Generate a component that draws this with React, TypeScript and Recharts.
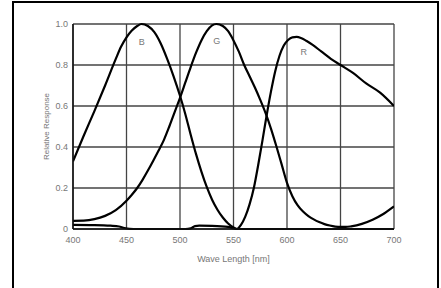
import React from 'react';
import { LineChart, Line, XAxis, YAxis, CartesianGrid, ReferenceDot, Label } from 'recharts';

const xTicks = [400, 450, 500, 550, 600, 650, 700];
const yTicks = [0, 0.2, 0.4, 0.6, 0.8, 1.0];

const bWave = [400, 410, 420, 430, 440, 445, 450, 455, 460, 464, 470, 476, 482, 488, 494, 500, 505, 510, 515, 520, 525, 530, 535, 540, 545, 550, 554, 560, 700];
const bValue = [0.33, 0.455, 0.575, 0.7, 0.83, 0.89, 0.935, 0.968, 0.99, 1.0, 0.99, 0.96, 0.905, 0.83, 0.745, 0.65, 0.56, 0.46, 0.365, 0.28, 0.205, 0.143, 0.094, 0.056, 0.027, 0.008, 0, 0, 0];

const gWave = [400, 410, 420, 430, 440, 450, 455, 460, 465, 470, 475, 480, 485, 490, 495, 500, 505, 510, 515, 520, 525, 530, 534, 540, 545, 550, 555, 560, 565, 570, 575, 580, 585, 590, 595, 600, 605, 610, 615, 620, 625, 630, 635, 640, 645, 650, 655, 660, 670, 680, 690, 700];
const gValue = [0.04, 0.041, 0.048, 0.064, 0.092, 0.138, 0.167, 0.2, 0.24, 0.285, 0.333, 0.383, 0.435, 0.5, 0.57, 0.64, 0.715, 0.79, 0.86, 0.92, 0.965, 0.993, 1.0, 0.99, 0.965, 0.92, 0.865, 0.8, 0.745, 0.69, 0.63, 0.565, 0.49, 0.405, 0.315, 0.225, 0.16, 0.115, 0.085, 0.063, 0.047, 0.034, 0.024, 0.017, 0.012, 0.01, 0.01, 0.013, 0.025, 0.045, 0.073, 0.11];

const rWave = [400, 420, 435, 443, 448, 453, 460, 505, 510, 514, 518, 530, 545, 553, 557, 561, 565, 569, 573, 577, 581, 585, 589, 593, 597, 601, 605, 609, 613, 618, 624, 632, 641, 650, 662, 674, 687, 700];
const rValue = [0.02, 0.019, 0.016, 0.012, 0.005, 0.001, 0, 0, 0.003, 0.014, 0.016, 0.015, 0.01, 0, 0.02, 0.06, 0.12, 0.2, 0.31, 0.43, 0.555, 0.67, 0.77, 0.845, 0.895, 0.922, 0.935, 0.937, 0.932, 0.918, 0.898, 0.866, 0.83, 0.8, 0.76, 0.71, 0.665, 0.6];

const curveNames = ['B', 'G', 'R'];
const labelWave = [464.2, 534.3, 615.6];
const labelValue = [0.914, 0.918, 0.865];

const zip = (w: number[], v: number[]) => w.map((nm, i) => ({ nm, v: v[i] }));
const series = [zip(bWave, bValue), zip(gWave, gValue), zip(rWave, rValue)];

const FONT = '"Liberation Sans", Arial, sans-serif';

export default function App() {
  return (
    <div style={{ position: 'fixed', left: 0, top: 0, width: 441, height: 288, overflow: 'hidden', background: '#fff' }}>
      <div style={{ position: 'absolute', left: 12, top: 1, width: 423, height: 320, borderTop: '2px solid #000', borderLeft: '2px solid #000', borderRight: '2px solid #000' }} />
      <div style={{ position: 'absolute', left: 0, top: 0 }}>
        <LineChart width={441} height={288} margin={{ top: 24, right: 47, bottom: 19, left: 20 }}>
          <CartesianGrid stroke="#444" strokeWidth={1.3} />
          <XAxis
            type="number"
            dataKey="nm"
            domain={[400, 700]}
            ticks={xTicks}
            allowDataOverflow
            height={40}
            tickLine={false}
            tickSize={0}
            tickMargin={8}
            axisLine={{ stroke: '#111', strokeWidth: 1.5 }}
            tick={{ fill: '#777', fontSize: 9, fontFamily: FONT }}
          >
            <Label value="Wave Length [nm]" position="insideBottom" offset={7} fill="#777" fontSize={9} fontFamily={FONT} />
          </XAxis>
          <YAxis
            type="number"
            dataKey="v"
            domain={[0, 1]}
            ticks={yTicks}
            width={53}
            tickLine={false}
            tickSize={0}
            tickMargin={5}
            axisLine={{ stroke: '#111', strokeWidth: 1.5 }}
            tick={{ fill: '#777', fontSize: 9, fontFamily: FONT }}
            tickFormatter={(v: number) => (v === 0 ? '0' : v.toFixed(1))}
          >
            <Label value="Relative Response" position="center" angle={-90} fill="#777" fontSize={8} fontFamily={FONT} />
          </YAxis>
          {series.map((d, i) => (
            <Line
              key={curveNames[i]}
              data={d}
              dataKey="v"
              type="monotone"
              stroke="#000"
              strokeWidth={2.2}
              dot={false}
              activeDot={false}
              isAnimationActive={false}
            />
          ))}
          {curveNames.map((n, i) => (
            <ReferenceDot
              key={'lbl' + n}
              x={labelWave[i]}
              y={labelValue[i]}
              r={0}
              fill="none"
              stroke="none"
              label={{ value: n, position: 'center', fill: '#777', fontSize: 9, fontFamily: FONT }}
            />
          ))}
        </LineChart>
      </div>
    </div>
  );
}
